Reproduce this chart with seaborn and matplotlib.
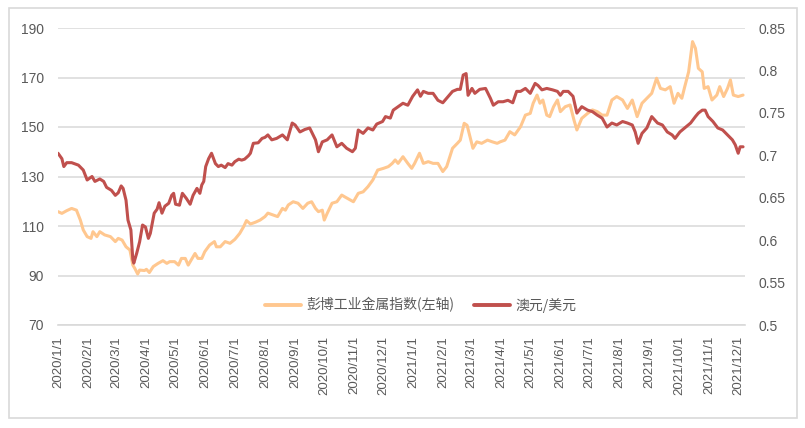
import numpy as np
import pandas as pd
import matplotlib
matplotlib.use("Agg")
import matplotlib.pyplot as plt
import seaborn as sns
from matplotlib.patches import Rectangle
from matplotlib.lines import Line2D

# ---------------- data ----------------
start_date = "2020-01-01"
series_names = ["彭博工业金属指数(左轴)", "澳元/美元"]

# Bloomberg industrial metals index (left axis), days since 2020-01-01
metal_day = [0, 4, 9, 14, 19, 23, 26, 30, 34, 36,
             40, 43, 48, 54, 59, 62, 66, 70, 74, 77,
             79, 82, 84, 89, 91, 94, 98, 103, 108, 112,
             115, 120, 124, 127, 131, 134, 139, 141, 144, 148,
             151, 156, 161, 163, 167, 172, 177, 182, 187, 191,
             194, 198, 203, 208, 213, 216, 221, 226, 231, 234,
             237, 242, 247, 252, 257, 261, 265, 268, 272, 274,
             277, 282, 287, 292, 295, 301, 304, 309, 314, 319,
             324, 329, 335, 340, 344, 347, 350, 355, 360, 364,
             367, 372, 376, 381, 386, 391, 396, 400, 406, 411,
             414, 418, 421, 424, 427, 431, 436, 442, 447, 452,
             455, 460, 465, 470, 476, 481, 486, 489, 493, 496,
             499, 503, 506, 510, 514, 517, 522, 527, 531, 534,
             539, 545, 550, 555, 560, 565, 570, 575, 581, 586,
             591, 596, 601, 606, 611, 616, 620, 625, 630, 634,
             638, 642, 645, 649, 653, 656, 659, 663, 665, 669,
             673, 678, 681, 685, 689, 692, 695, 700, 705]
metal_val = [115.8, 115.1, 116.2, 117.1, 116.4, 112.4, 108.4, 105.7, 105.0, 107.7,
             105.7, 107.7, 106.4, 105.7, 103.7, 105.0, 104.3, 101.6, 100.3, 94.2,
             92.9, 90.6, 92.2, 92.0, 92.5, 91.2, 93.6, 94.9, 96.0, 94.9,
             95.6, 95.6, 94.2, 96.9, 96.9, 94.2, 97.6, 98.9, 96.9, 96.9,
             99.6, 102.3, 103.7, 101.6, 101.6, 103.7, 103.0, 104.6, 107.0, 109.7,
             112.2, 110.8, 111.5, 112.4, 113.8, 115.2, 114.5, 113.8, 117.1, 116.4,
             118.5, 119.8, 119.2, 117.1, 119.2, 119.8, 117.1, 115.8, 116.4, 112.4,
             115.1, 119.2, 119.8, 122.5, 121.8, 120.5, 119.8, 123.2, 123.8, 125.9,
             128.6, 132.6, 133.3, 134.0, 135.3, 136.7, 135.3, 138.0, 135.3, 133.3,
             135.3, 139.4, 135.3, 136.0, 135.3, 135.3, 132.0, 134.0, 141.4, 143.4,
             144.7, 151.5, 150.7, 146.1, 141.4, 144.0, 143.4, 144.7, 144.0, 143.4,
             144.0, 144.7, 148.1, 146.8, 150.1, 154.8, 155.5, 159.6, 162.9, 159.6,
             160.9, 154.8, 154.2, 158.2, 160.9, 156.2, 158.2, 158.9, 152.8, 148.8,
             153.5, 155.5, 156.9, 156.2, 154.8, 154.8, 160.9, 162.3, 160.9, 157.5,
             160.9, 154.2, 159.6, 161.6, 163.6, 169.7, 165.6, 165.0, 166.3, 159.6,
             163.6, 161.6, 166.3, 172.3, 184.5, 181.8, 173.7, 172.3, 165.6, 166.3,
             160.9, 162.9, 166.3, 162.3, 165.6, 169.0, 162.9, 162.3, 162.9]

# AUD/USD (right axis), days since 2020-01-01
aud_day = [0, 4, 6, 9, 14, 21, 26, 30, 35, 38,
           43, 47, 50, 55, 59, 62, 65, 67, 70, 72,
           75, 77, 78, 81, 84, 87, 90, 93, 95, 99,
           102, 104, 107, 110, 114, 117, 119, 121, 125, 128,
           132, 136, 139, 143, 146, 148, 150, 152, 155, 158,
           162, 165, 168, 172, 175, 179, 182, 186, 189, 192,
           196, 198, 201, 206, 210, 213, 216, 220, 225, 231,
           236, 241, 244, 249, 254, 259, 265, 268, 272, 277,
           282, 287, 292, 297, 303, 306, 309, 314, 319, 324,
           328, 334, 337, 342, 345, 350, 355, 360, 365, 370,
           373, 376, 381, 386, 391, 396, 400, 406, 411, 414,
           417, 420, 422, 426, 429, 434, 440, 445, 448, 453,
           458, 463, 468, 472, 476, 481, 486, 491, 494, 498,
           503, 509, 514, 517, 520, 525, 530, 534, 539, 545,
           550, 555, 560, 565, 570, 575, 581, 586, 591, 594,
           597, 601, 606, 611, 617, 622, 627, 632, 635, 640,
           645, 651, 656, 659, 663, 666, 669, 674, 679, 684,
           689, 694, 697, 700, 702, 705]
aud_val = [0.7024, 0.6960, 0.6867, 0.6913, 0.6913, 0.6884, 0.6826, 0.6709, 0.6750, 0.6692,
           0.6721, 0.6692, 0.6622, 0.6587, 0.6528, 0.6558, 0.6639, 0.6610, 0.6470, 0.6237,
           0.6120, 0.5770, 0.5729, 0.5846, 0.5980, 0.6178, 0.6155, 0.6021, 0.6079, 0.6318,
           0.6365, 0.6441, 0.6318, 0.6400, 0.6435, 0.6528, 0.6552, 0.6423, 0.6412, 0.6552,
           0.6493, 0.6423, 0.6528, 0.6610, 0.6552, 0.6651, 0.6692, 0.6867, 0.6960, 0.7024,
           0.6902, 0.6867, 0.6884, 0.6855, 0.6902, 0.6884, 0.6925, 0.6954, 0.6943, 0.6954,
           0.6995, 0.7024, 0.7141, 0.7147, 0.7199, 0.7211, 0.7240, 0.7182, 0.7199, 0.7240,
           0.7182, 0.7380, 0.7357, 0.7275, 0.7304, 0.7322, 0.7182, 0.7042, 0.7158, 0.7182,
           0.7240, 0.7100, 0.7141, 0.7083, 0.7042, 0.7083, 0.7298, 0.7258, 0.7322, 0.7298,
           0.7368, 0.7398, 0.7456, 0.7438, 0.7532, 0.7573, 0.7613, 0.7590, 0.7695, 0.7771,
           0.7695, 0.7753, 0.7730, 0.7730, 0.7648, 0.7619, 0.7672, 0.7753, 0.7777, 0.7777,
           0.7946, 0.7963, 0.7707, 0.7788, 0.7730, 0.7777, 0.7788, 0.7672, 0.7590, 0.7631,
           0.7631, 0.7648, 0.7619, 0.7753, 0.7753, 0.7788, 0.7730, 0.7847, 0.7823, 0.7771,
           0.7788, 0.7771, 0.7753, 0.7707, 0.7753, 0.7753, 0.7695, 0.7497, 0.7573, 0.7532,
           0.7514, 0.7473, 0.7438, 0.7333, 0.7380, 0.7357, 0.7398, 0.7380, 0.7357, 0.7275,
           0.7141, 0.7258, 0.7322, 0.7456, 0.7380, 0.7357, 0.7275, 0.7240, 0.7199, 0.7275,
           0.7322, 0.7380, 0.7456, 0.7497, 0.7532, 0.7532, 0.7456, 0.7398, 0.7322, 0.7298,
           0.7240, 0.7182, 0.7123, 0.7024, 0.7100, 0.7100]

left_ticks = [70, 90, 110, 130, 150, 170, 190]
right_ticks = [0.5, 0.55, 0.6, 0.65, 0.7, 0.75, 0.8, 0.85]
right_labels = ["0.5", "0.55", "0.6", "0.65", "0.7", "0.75", "0.8", "0.85"]
x_tick_dates = pd.date_range("2020-01-01", "2021-12-01", freq="MS")
x_tick_labels = [f"{d.year}/{d.month}/{d.day}" for d in x_tick_dates]

# ---------------- build frames ----------------
t0 = pd.Timestamp(start_date)
df_metal = pd.DataFrame({"date": t0 + pd.to_timedelta(metal_day, unit="D"),
                         "value": metal_val})
df_aud = pd.DataFrame({"date": t0 + pd.to_timedelta(aud_day, unit="D"),
                       "value": aud_val})

# ---------------- style ----------------
sns.set_theme(style="white")
plt.rcParams["font.family"] = ["Noto Sans CJK SC", "DejaVu Sans"]

orange = "#FFC78F"
red = "#C0504D"
grid_c = "#D9D9D9"
text_c = "#595959"

fig = plt.figure(figsize=(8.05, 4.28), dpi=100)
fig.patches.append(Rectangle((9 / 805, 1 - 418 / 428), 788 / 805, 410 / 428,
                             transform=fig.transFigure, fill=False,
                             edgecolor=grid_c, linewidth=1.2))

ax = fig.add_axes([58 / 805, 1 - 325 / 428, 687 / 805, 297 / 428])
sns.lineplot(data=df_metal, x="date", y="value", ax=ax, color=orange,
             linewidth=2.2, legend=False)
ax2 = ax.twinx()
sns.lineplot(data=df_aud, x="date", y="value", ax=ax2, color=red,
             linewidth=2.2, legend=False)

ax.set_xlim(t0, t0 + pd.Timedelta(days=707))
ax.set_ylim(70, 190)
ax2.set_ylim(0.5, 0.85)
ax.set_yticks(left_ticks)
ax.set_yticklabels([str(v) for v in left_ticks])
ax2.set_yticks(right_ticks)
ax2.set_yticklabels(right_labels)
ax.set_xticks(x_tick_dates)
ax.set_xticklabels(x_tick_labels)

for a in (ax, ax2):
    a.set_xlabel("")
    a.set_ylabel("")
    for s in ("top", "left", "right"):
        a.spines[s].set_visible(False)
ax.spines["bottom"].set_color(grid_c)
ax.spines["bottom"].set_linewidth(1.2)
ax2.spines["bottom"].set_visible(False)

ax.yaxis.grid(True, color=grid_c, linewidth=1.1)
ax.xaxis.grid(False)
ax2.grid(False)

tick_font = ["Liberation Sans", "DejaVu Sans"]
ax.tick_params(axis="y", length=0, pad=10, labelcolor=text_c, labelsize=10)
ax2.tick_params(axis="y", length=0, pad=10, labelcolor=text_c, labelsize=10)
ax.tick_params(axis="x", length=5, width=1, color=grid_c, pad=3,
               labelrotation=90, labelcolor=text_c, labelsize=9.5)
for lab in ax.get_xticklabels() + ax.get_yticklabels() + ax2.get_yticklabels():
    lab.set_fontfamily(tick_font)

handles = [Line2D([], [], color=orange, linewidth=2.8),
           Line2D([], [], color=red, linewidth=2.8)]
fig.legend(handles, series_names, loc="center", bbox_to_anchor=(421 / 805, 1 - 305 / 428),
           ncol=2, frameon=False, fontsize=10, handlelength=2.6, handletextpad=0.4,
           columnspacing=1.4, labelcolor=text_c)

fig.savefig("out.png", dpi=100)
